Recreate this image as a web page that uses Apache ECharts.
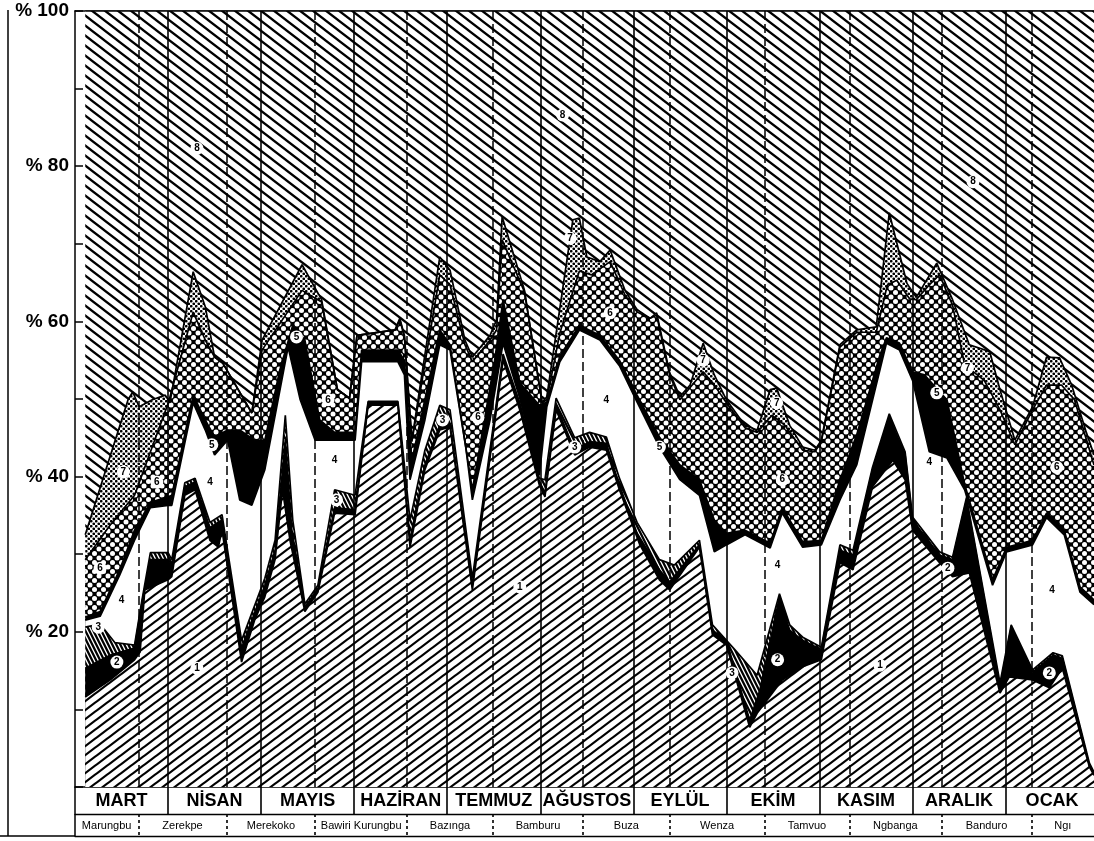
<!DOCTYPE html>
<html>
<head>
<meta charset="utf-8">
<script src="https://cdn.jsdelivr.net/npm/echarts@6/dist/echarts.min.js"></script>
<style>
  html, body { margin: 0; padding: 0; background: #fff; }
  #chart { width: 1094px; height: 841px; }
</style>
</head>
<body>
<div id="chart"></div>
<script>
// Months along the bottom band and the places visited in each stretch
const months = ['MART', 'NİSAN', 'MAYIS', 'HAZİRAN', 'TEMMUZ', 'AĞUSTOS', 'EYLÜL', 'EKİM', 'KASIM', 'ARALIK', 'OCAK'];
const monthBreaks = [1, 2, 3, 4, 5, 6, 7, 8, 9, 10];
const places = ['Marungbu', 'Zerekpe', 'Merekoko', 'Bawiri Kurungbu', 'Bazınga', 'Bamburu', 'Buza', 'Wenza', 'Tamvuo', 'Ngbanga', 'Banduro', 'Ngı'];
const placeBreaks = [0.68, 1.63, 2.58, 3.57, 4.49, 5.46, 6.39, 7.41, 8.32, 9.31, 10.28];
const xStart = 0.11;
const xEnd = 10.95;
const yTicks = [20, 40, 60, 80, 100];

// Upper edge of each band as a cumulative percent, [month, %]
const layer1 = [[0.11,11.6],[0.38,13.8],[0.64,16.4],[0.70,17.4],[0.75,25.4],[1.00,26.7],[1.04,27.1],[1.18,37.6],[1.29,38.3],[1.45,31.8],[1.54,30.9],[1.58,33.1],[1.79,16.1],[1.93,21.5],[2.04,24.5],[2.15,29.3],[2.23,38.3],[2.31,31.8],[2.47,22.6],[2.61,25.1],[2.79,35.3],[3.01,35.1],[3.15,49.2],[3.47,49.2],[3.60,30.9],[3.76,40.9],[3.92,46.0],[4.03,46.4],[4.27,25.4],[4.60,55.0],[4.78,48.6],[4.99,38.9],[5.05,37.4],[5.17,48.6],[5.37,42.8],[5.53,43.8],[5.71,43.4],[5.85,38.3],[6.07,31.2],[6.28,26.7],[6.39,25.4],[6.71,30.9],[6.85,19.6],[7.00,18.3],[7.25,7.7],[7.33,9.5],[7.60,13.8],[7.82,15.5],[8.02,16.4],[8.22,28.9],[8.36,28.0],[8.57,38.7],[8.79,42.1],[8.92,39.6],[9.00,33.1],[9.29,28.9],[9.43,27.1],[9.61,27.6],[9.94,12.1],[10.04,14.2],[10.29,13.8],[10.47,12.8],[10.61,15.3],[10.90,2.6],[10.95,1.5]];
const layer2 = [[0.11,15.3],[0.38,17.0],[0.64,17.9],[0.72,23.8],[0.81,29.3],[1.00,29.3],[1.04,28.6],[1.18,38.7],[1.29,39.3],[1.45,33.4],[1.58,34.4],[1.79,17.9],[2.04,26.0],[2.15,30.5],[2.26,44.7],[2.33,33.1],[2.47,23.2],[2.61,25.6],[2.79,36.0],[3.01,35.7],[3.15,49.5],[3.47,49.5],[3.60,31.8],[3.76,41.5],[3.92,46.6],[4.03,46.8],[4.27,26.0],[4.60,55.4],[4.78,49.1],[4.99,39.4],[5.05,37.9],[5.17,49.2],[5.37,43.4],[5.53,44.5],[5.71,44.3],[5.85,38.9],[6.04,32.7],[6.28,28.0],[6.39,26.4],[6.71,31.2],[6.85,20.2],[7.00,18.9],[7.25,8.6],[7.36,12.5],[7.57,24.5],[7.68,20.2],[7.82,18.9],[8.02,17.7],[8.22,30.5],[8.36,29.9],[8.57,40.9],[8.75,47.7],[8.92,42.8],[9.00,34.4],[9.29,29.9],[9.43,29.3],[9.58,37.0],[9.94,12.9],[10.06,20.6],[10.29,14.8],[10.51,17.0],[10.61,16.6],[10.90,2.8],[10.95,1.8]];
const layer3 = [[0.11,20.6],[0.27,21.0],[0.43,18.6],[0.64,18.3],[0.72,24.1],[0.81,30.2],[1.00,30.2],[1.04,29.3],[1.18,39.2],[1.29,39.8],[1.45,34.1],[1.58,35.1],[1.79,18.9],[2.04,26.9],[2.15,31.8],[2.26,47.9],[2.34,34.4],[2.47,23.6],[2.61,26.0],[2.79,38.3],[3.01,37.6],[3.15,49.7],[3.47,49.7],[3.60,34.4],[3.76,43.4],[3.92,49.2],[4.03,48.6],[4.27,26.9],[4.60,55.8],[4.78,49.5],[4.99,39.8],[5.05,39.6],[5.17,50.1],[5.37,45.0],[5.53,45.7],[5.71,45.1],[5.85,39.8],[6.04,34.1],[6.28,29.3],[6.44,28.6],[6.71,31.8],[6.85,20.9],[7.09,17.7],[7.33,14.4],[7.57,24.9],[7.68,20.9],[7.82,19.3],[8.02,18.0],[8.22,31.2],[8.36,30.5],[8.57,41.2],[8.75,48.1],[8.92,43.2],[9.00,34.8],[9.29,30.3],[9.43,29.6],[9.58,37.3],[9.94,13.4],[10.06,20.9],[10.29,15.1],[10.51,17.3],[10.61,16.9],[10.90,3.1],[10.95,1.9]];
const layer4 = [[0.11,21.5],[0.27,22.0],[0.48,27.3],[0.64,31.8],[0.81,36.0],[1.00,36.3],[1.04,36.3],[1.27,49.5],[1.40,46.0],[1.50,42.8],[1.64,44.7],[1.77,37.0],[1.90,36.3],[2.04,40.9],[2.29,56.7],[2.42,49.9],[2.58,44.7],[2.79,44.7],[3.01,44.7],[3.08,54.8],[3.47,54.8],[3.54,53.1],[3.60,39.6],[3.76,47.3],[3.92,57.0],[4.03,56.3],[4.20,43.7],[4.27,37.0],[4.46,47.3],[4.60,57.2],[4.78,50.1],[4.99,40.2],[5.07,49.0],[5.21,54.8],[5.42,58.9],[5.64,57.6],[5.85,54.3],[6.04,49.6],[6.28,43.8],[6.50,39.6],[6.71,37.6],[6.87,30.3],[7.00,31.2],[7.20,32.5],[7.47,30.8],[7.60,35.3],[7.82,30.9],[8.02,31.2],[8.22,37.0],[8.40,41.5],[8.72,57.2],[8.86,56.3],[9.00,52.4],[9.18,43.2],[9.37,42.4],[9.56,38.3],[9.86,26.0],[10.01,30.3],[10.29,31.2],[10.44,34.7],[10.63,32.5],[10.80,25.1],[10.95,23.5]];
const layer5 = [[0.11,21.9],[0.27,22.6],[0.48,28.0],[0.64,33.1],[0.81,36.7],[1.00,37.4],[1.04,37.6],[1.27,50.5],[1.40,47.3],[1.50,45.1],[1.64,46.0],[1.77,46.0],[1.93,44.7],[2.04,44.7],[2.20,53.7],[2.34,59.5],[2.47,57.6],[2.63,47.3],[2.79,45.7],[3.01,45.7],[3.08,56.3],[3.47,56.3],[3.54,55.0],[3.62,42.1],[3.92,58.9],[4.03,57.0],[4.27,38.3],[4.51,55.0],[4.60,62.8],[4.78,52.1],[4.99,49.2],[5.07,49.6],[5.21,55.5],[5.42,59.5],[5.64,58.2],[5.85,55.0],[6.04,50.5],[6.28,45.1],[6.50,41.5],[6.71,39.6],[6.87,34.4],[7.00,32.7],[7.20,33.1],[7.47,31.4],[7.60,36.0],[7.82,31.6],[8.02,31.8],[8.22,39.6],[8.40,45.4],[8.65,55.7],[8.72,57.9],[8.86,57.2],[9.00,53.5],[9.13,53.1],[9.37,49.9],[9.56,39.0],[9.86,26.7],[10.01,30.9],[10.29,31.8],[10.44,35.3],[10.63,33.1],[10.80,25.8],[10.95,24.1]];
const layer6 = [[0.11,29.3],[0.38,33.8],[0.64,37.6],[1.00,49.4],[1.27,61.2],[1.40,57.6],[1.50,55.4],[1.59,54.6],[1.90,48.2],[2.01,56.3],[2.44,64.0],[2.61,62.8],[2.65,62.5],[2.82,51.2],[2.95,50.1],[3.03,58.2],[3.44,58.9],[3.49,60.2],[3.54,58.0],[3.62,44.5],[3.92,66.0],[4.03,64.7],[4.19,57.0],[4.27,54.8],[4.46,57.6],[4.53,58.9],[4.59,70.5],[4.83,63.8],[5.02,49.5],[5.07,49.9],[5.21,58.5],[5.42,66.5],[5.55,66.0],[5.75,67.7],[5.91,63.4],[6.04,61.2],[6.18,60.4],[6.25,60.8],[6.39,53.1],[6.50,49.9],[6.75,53.5],[6.87,51.8],[7.00,49.5],[7.20,46.3],[7.33,45.7],[7.49,47.9],[7.63,46.6],[7.82,43.4],[7.95,43.2],[8.02,44.5],[8.22,56.7],[8.40,58.6],[8.61,58.6],[8.73,64.7],[8.83,65.3],[8.97,62.9],[9.04,62.8],[9.18,64.7],[9.29,66.0],[9.43,62.1],[9.56,54.4],[9.77,52.4],[9.94,48.6],[10.10,44.1],[10.29,48.6],[10.44,51.8],[10.60,51.8],[10.74,49.9],[10.95,41.5]];
const layer7 = [[0.11,32.5],[0.57,49.9],[0.62,50.9],[0.69,49.0],[0.83,49.9],[0.97,50.5],[1.02,49.5],[1.27,66.4],[1.40,61.9],[1.50,55.4],[1.59,54.6],[1.90,48.2],[2.01,57.6],[2.44,67.3],[2.65,62.8],[2.82,51.2],[2.95,50.1],[3.03,58.2],[3.44,58.9],[3.49,60.4],[3.54,58.2],[3.62,44.7],[3.92,68.3],[4.03,66.6],[4.19,57.6],[4.27,55.4],[4.46,58.2],[4.53,60.2],[4.59,73.5],[4.83,64.0],[5.02,49.5],[5.07,50.3],[5.35,73.1],[5.42,73.3],[5.50,68.3],[5.64,67.7],[5.75,69.2],[5.91,64.0],[6.04,61.5],[6.18,60.4],[6.25,61.1],[6.39,53.4],[6.50,50.3],[6.61,51.8],[6.75,57.2],[6.87,53.1],[7.00,49.9],[7.20,46.6],[7.33,46.0],[7.47,51.2],[7.54,51.4],[7.68,46.6],[7.82,43.8],[7.95,43.4],[8.02,44.7],[8.22,57.0],[8.40,58.9],[8.61,59.3],[8.75,74.0],[8.94,64.9],[9.04,63.1],[9.26,67.5],[9.43,62.8],[9.61,57.0],[9.83,56.1],[9.94,51.2],[10.10,44.7],[10.29,49.0],[10.44,55.4],[10.58,55.3],[10.71,51.8],[10.87,45.6],[10.95,42.8]];
const layer8 = [[xStart,100],[xEnd,100]];

// Band numbers written inside the bands: [month, %, number]
const bandMarks = [
  [1.31,82.3,'8'],[5.24,86.6,'8'],[9.65,78.0,'8'],
  [0.52,40.6,'7'],[5.32,70.7,'7'],[6.75,55.0,'7'],[7.54,49.5,'7'],[9.59,54.0,'7'],
  [0.27,28.2,'6'],[0.88,39.3,'6'],[2.72,49.9,'6'],[4.33,47.6,'6'],[5.75,61.1,'6'],[7.60,39.6,'6'],[10.55,41.2,'6'],
  [1.47,44.1,'5'],[2.38,58.0,'5'],[6.28,43.8,'5'],[9.26,50.8,'5'],
  [0.50,24.1,'4'],[1.45,39.3,'4'],[2.79,42.1,'4'],[5.71,49.9,'4'],[7.55,28.6,'4'],[9.18,41.9,'4'],[10.50,25.4,'4'],
  [0.25,20.6,'3'],[2.81,37.0,'3'],[3.95,47.3,'3'],[5.37,43.8,'3'],[7.06,14.7,'3'],
  [0.45,16.1,'2'],[7.55,16.4,'2'],[9.38,28.2,'2'],[10.47,14.7,'2'],
  [1.31,15.3,'1'],[4.78,25.8,'1'],[8.65,15.7,'1']
];

// ---- fill patterns ----
function tile(w, h, bg, draw) {
  const c = document.createElement('canvas');
  c.width = w; c.height = h;
  const g = c.getContext('2d');
  g.fillStyle = bg; g.fillRect(0, 0, w, h);
  draw(g, w, h);
  return { image: c, repeat: 'repeat' };
}
// diagonal stripes; down = true draws "\" lines, false draws "/" lines
function stripes(w, h, lw, down, bg, fg) {
  return tile(w, h, bg, (g) => {
    g.strokeStyle = fg; g.lineWidth = lw;
    g.beginPath();
    for (let k = -2; k <= 2; k++) {
      const ox = k * w;
      if (down) { g.moveTo(ox - w, -h); g.lineTo(ox + 2 * w, 2 * h); }
      else { g.moveTo(ox - w, 2 * h); g.lineTo(ox + 2 * w, -h); }
    }
    g.stroke();
  });
}
function holes(s, r) {
  return tile(s, s, '#000', (g) => {
    g.fillStyle = '#fff';
    [[0,0],[s,0],[0,s],[s,s],[s/2,s/2]].forEach(([x,y]) => { g.beginPath(); g.arc(x, y, r, 0, Math.PI*2); g.fill(); });
  });
}
function dots(s, r) {
  return tile(s, s, '#fff', (g) => {
    g.fillStyle = '#000';
    [[s/4,s/4],[3*s/4,3*s/4]].forEach(([x,y]) => { g.beginPath(); g.arc(x, y, r, 0, Math.PI*2); g.fill(); });
  });
}

const fills = {
  8: stripes(13, 10, 2.3, true, '#fff', '#000'),
  7: dots(5, 1.35),
  6: holes(9, 2.5),
  5: '#000',
  4: '#fff',
  3: stripes(4, 8, 1.3, true, '#000', '#fff'),
  2: '#000',
  1: stripes(12, 9, 2.2, false, '#fff', '#000')
};
const layers = { 1: layer1, 2: layer2, 3: layer3, 4: layer4, 5: layer5, 6: layer6, 7: layer7, 8: layer8 };

// painted from the top band down, each opaque band covering the one above it
const bandSeries = [8, 7, 6, 5, 4, 3, 2, 1].map((k) => ({
  type: 'line',
  name: String(k),
  data: layers[k],
  symbol: 'none',
  silent: true,
  lineStyle: { color: '#000', width: 1.7 },
  areaStyle: { color: fills[k], opacity: 1 },
  z: 2
}));

const placeCenters = placeBreaks.map((b, i) => ((i === 0 ? 0 : placeBreaks[i - 1]) + b) / 2);
placeCenters.push((placeBreaks[placeBreaks.length - 1] + xEnd) / 2);
const monthCenters = months.map((m, i) => i + 0.5);

const guideSeries = {
  type: 'line',
  data: [],
  silent: true,
  z: 5,
  markLine: {
    silent: true,
    symbol: ['none', 'none'],
    label: { show: false },
    animation: false,
    data: [
      ...monthBreaks.map((v) => ({ xAxis: v, lineStyle: { color: '#000', width: 1.6, type: 'solid' } })),
      ...placeBreaks.map((v) => ({ xAxis: v, lineStyle: { color: '#000', width: 1.5, type: [9, 4] } }))
    ]
  }
};

const markSeries = {
  type: 'scatter',
  data: bandMarks,
  symbol: 'circle',
  symbolSize: 13,
  silent: true,
  z: 10,
  itemStyle: { color: '#fff', opacity: 1 },
  label: {
    show: true, position: 'inside',
    formatter: (p) => p.value[2],
    color: '#000', fontSize: 10, fontWeight: 'bold', fontFamily: 'Liberation Sans, Arial, sans-serif'
  }
};

const baseX = { type: 'value', min: 0, max: xEnd, gridIndex: 0, splitLine: { show: false } };
const font = 'Liberation Sans, Arial, Helvetica, sans-serif';

const chart = echarts.init(document.getElementById('chart'), null, { renderer: 'canvas' });
chart.setOption({
  animation: false,
  backgroundColor: '#fff',
  grid: { left: 75, right: 0, top: 11, bottom: 54, containLabel: false },
  xAxis: [
    Object.assign({}, baseX, {
      position: 'bottom',
      axisLine: { show: true, lineStyle: { color: '#000', width: 1.5 } },
      axisTick: { show: false }, axisLabel: { show: false }
    }),
    Object.assign({}, baseX, {
      position: 'bottom', offset: 0,
      axisLine: { show: false },
      axisTick: { show: true, customValues: monthBreaks, length: 27, inside: false, lineStyle: { color: '#000', width: 1.6 } },
      axisLabel: {
        show: true, customValues: monthCenters, margin: 5,
        formatter: (v) => months[Math.round(v - 0.5)] || '',
        color: '#000', fontSize: 18, fontWeight: 'bold', fontFamily: font
      }
    }),
    Object.assign({}, baseX, {
      position: 'bottom', offset: 27,
      axisLine: { show: true, lineStyle: { color: '#000', width: 1.3 } },
      axisTick: { show: true, customValues: placeBreaks, length: 22, inside: false, lineStyle: { color: '#000', width: 1.6, type: [3, 3] } },
      axisLabel: {
        show: true, customValues: placeCenters, margin: 6,
        formatter: (v) => { const i = placeCenters.findIndex((c) => Math.abs(c - v) < 1e-6); return i >= 0 ? places[i] : ''; },
        color: '#000', fontSize: 11, fontFamily: font
      }
    }),
    Object.assign({}, baseX, {
      position: 'bottom', offset: 49,
      axisLine: { show: true, lineStyle: { color: '#000', width: 1.3 } },
      axisTick: { show: false }, axisLabel: { show: false }
    }),
    Object.assign({}, baseX, {
      position: 'top',
      axisLine: { show: true, lineStyle: { color: '#000', width: 1.5 } },
      axisTick: { show: false }, axisLabel: { show: false }
    })
  ],
  yAxis: {
    type: 'value', min: 0, max: 100, interval: 10,
    splitLine: { show: false },
    axisLine: { show: true, lineStyle: { color: '#000', width: 1.5 } },
    axisTick: { show: true, inside: true, length: 8, lineStyle: { color: '#000', width: 1.5 } },
    axisLabel: {
      margin: 6,
      formatter: (v) => (yTicks.indexOf(v) >= 0 ? '% ' + v : ''),
      color: '#000', fontSize: 19, fontWeight: 'bold', fontFamily: font
    }
  },
  graphic: [
    { type: 'line', shape: { x1: 8, y1: 10, x2: 8, y2: 836 }, style: { stroke: '#000', lineWidth: 1.5 } },
    { type: 'line', shape: { x1: 0, y1: 836, x2: 75, y2: 836 }, style: { stroke: '#000', lineWidth: 1.3 } },
    { type: 'line', shape: { x1: 75, y1: 787, x2: 75, y2: 836 }, style: { stroke: '#000', lineWidth: 1.5 } }
  ],
  series: [...bandSeries, guideSeries, markSeries]
});
</script>
</body>
</html>
